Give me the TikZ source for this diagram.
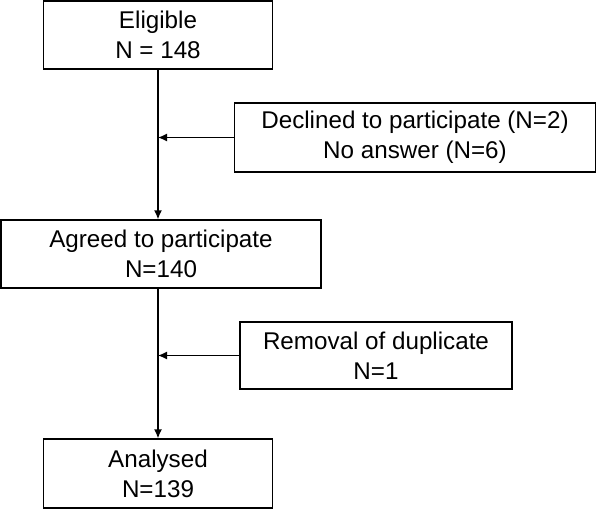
\documentclass[tikz,border=0pt]{standalone}
\usepackage{fontspec}
\setmainfont{Liberation Sans}
\usetikzlibrary{arrows.meta}
\begin{document}
\begin{tikzpicture}[x=1pt,y=-1pt,
  box/.style={draw, line width=1.3pt, align=center, inner sep=0pt,
    font=\fontsize{24.2}{30}\selectfont},
  arr/.style={line width=1.3pt, -{Latex[length=9pt,width=8pt]}}]
\useasboundingbox (0,0) rectangle (597,509);
\node[box, minimum width=229, minimum height=68] (e) at (158,35) {Eligible\\N = 148};
\node[box, minimum width=361, minimum height=69] (d) at (415,137.5) {Declined to participate (N=2)\\No answer (N=6)};
\node[box, minimum width=320, minimum height=68] (a) at (161,254) {Agreed to participate\\N=140};
\node[box, minimum width=272, minimum height=67] (r) at (376,355.5) {Removal of duplicate\\N=1};
\node[box, minimum width=229, minimum height=69] (n) at (158,473.5) {Analysed\\N=139};
\draw[arr] (e.south) -- (e.south |- a.north);
\draw[arr] (e.south |- a.south) -- (n.north);
\draw[arr] (d.west) -- (d.west -| e.south);
\draw[arr] (r.west) -- (r.west -| e.south);
\end{tikzpicture}
\end{document}
